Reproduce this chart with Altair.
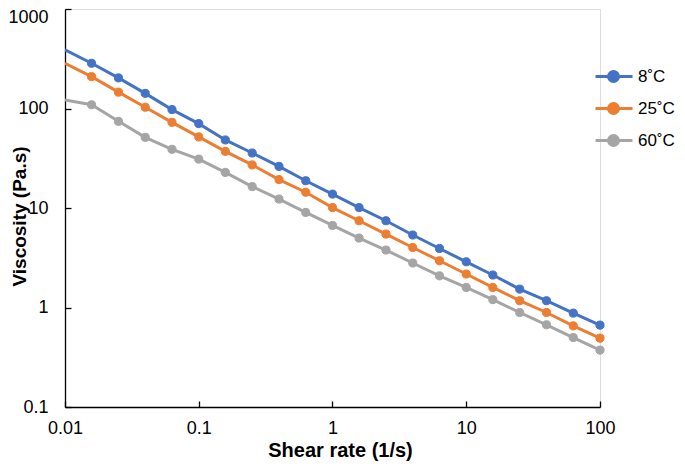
import altair as alt
import pandas as pd

shear = [0.01, 0.0158, 0.0251, 0.0398, 0.0631, 0.1, 0.158, 0.251, 0.398, 0.631,
         1, 1.58, 2.51, 3.98, 6.31, 10, 15.8, 25.1, 39.8, 63.1, 100]
v8 = [389, 285, 203, 142, 97.5, 70.5, 48.3, 35.7, 26.2, 18.8, 13.8, 10.1, 7.45,
      5.35, 3.92, 2.88, 2.12, 1.53, 1.17, 0.878, 0.665]
v25 = [285, 209, 146, 103, 72.6, 51.8, 37.1, 27.1, 19.3, 14.4, 10.1, 7.45, 5.47,
       4.01, 2.95, 2.17, 1.59, 1.17, 0.891, 0.654, 0.492]
v60 = [122, 109, 74.3, 51.3, 38.9, 31.0, 22.8, 16.4, 12.3, 9.03, 6.68, 4.99, 3.78,
       2.80, 2.08, 1.59, 1.20, 0.891, 0.670, 0.499, 0.373]
series = ["8˚C", "25˚C", "60˚C"]
colors = ["#4472C4", "#ED7D31", "#A5A5A5"]
x_ticks = [0.01, 0.1, 1, 10, 100]
y_ticks = [0.1, 1, 10, 100, 1000]

rows = []
for name, vals in zip(series, [v8, v25, v60]):
    for i, (s, v) in enumerate(zip(shear, vals)):
        rows.append({"shear": s, "visc": v, "series": name, "idx": i})
df = pd.DataFrame(rows)

FONT = "Liberation Sans"
xs = alt.Scale(type="log", domain=[0.01, 100], nice=False)
ys = alt.Scale(type="log", domain=[0.1, 1000], nice=False)
cs = alt.Scale(domain=series, range=colors)

sym = "M-1.176,0L1,0M0.176,0A0.294,0.294 0 1,1 -0.412,0A0.294,0.294 0 1,1 0.176,0Z"
leg = alt.Legend(title=None, orient="none", legendX=532, legendY=49,
                 symbolType=sym, symbolSize=1156, symbolStrokeWidth=3,
                 labelFont=FONT, labelFontSize=17, labelColor="#000",
                 labelOffset=4, rowPadding=2)

base = alt.Chart(df)

lines = base.mark_line(strokeWidth=3, clip=True).encode(
    x=alt.X("shear:Q", scale=xs,
            axis=alt.Axis(values=x_ticks, format="~g", tickSize=0, grid=False,
                          labelFlush=False,
                          labelFont=FONT, labelFontSize=18, labelColor="#000",
                          labelPadding=12, domainColor="#000", domainWidth=1.3,
                          title="Shear rate (1/s)", titleFont=FONT, titleFontSize=20,
                          titleFontWeight="bold", titleColor="#000",
                          titleX=275, titleY=49, titleBaseline="alphabetic")),
    y=alt.Y("visc:Q", scale=ys,
            axis=alt.Axis(values=y_ticks, format="~g", tickSize=0, grid=False,
                          labelFlush=False,
                          labelOffset={"condition": {"test": "datum.value >= 1000", "value": 8}, "value": 0},
                          labelFont=FONT, labelFontSize=18, labelColor="#000",
                          labelPadding=17, domainColor="#000", domainWidth=1.3,
                          title="Viscosity (Pa.s)", titleFont=FONT, titleFontSize=19,
                          titleFontWeight="bold", titleColor="#000",
                          titleAngle=270, titleX=-40, titleY=207,
                          titleBaseline="alphabetic")),
    color=alt.Color("series:N", scale=cs, legend=leg),
    detail="series:N",
    order="idx:Q",
)

points = base.mark_point(filled=True, size=66, opacity=1, strokeWidth=1).encode(
    x=alt.X("shear:Q", scale=xs,
            axis=alt.Axis(values=x_ticks, orient="bottom", offset=-6, tickSize=6,
                          tickColor="#000", tickWidth=1.3, labels=False,
                          domain=False, grid=False, title=None)),
    y=alt.Y("visc:Q", scale=ys,
            axis=alt.Axis(values=y_ticks, orient="left", offset=-6, tickSize=6,
                          tickColor="#000", tickWidth=1.3, labels=False,
                          domain=False, grid=False, title=None)),
    color=alt.Color("series:N", scale=cs, legend=leg),
    stroke=alt.Stroke("series:N", scale=cs, legend=leg),
).transform_filter(alt.datum.idx > 0)

chart = alt.layer(lines, points).resolve_axis(x="independent", y="independent").properties(
    width=535, height=398,
    autosize=alt.AutoSizeParams(type="none"),
    padding={"left": 57, "top": 1, "right": 77, "bottom": 54},
).configure_view(stroke=None).configure(background="white")

chart.save("out.html", embed_options={"renderer": "svg", "actions": False})
